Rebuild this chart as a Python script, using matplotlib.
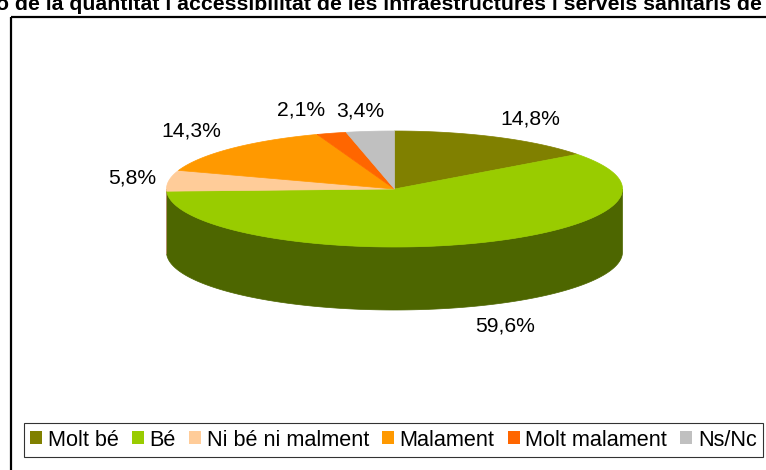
import numpy as np
import matplotlib
matplotlib.use("Agg")
import matplotlib.pyplot as plt
from matplotlib.patches import Polygon, Patch

# ---- data ----
categories = ["Molt bé", "Bé", "Ni bé ni malment", "Malament", "Molt malament", "Ns/Nc"]
values = [14.8, 59.6, 5.8, 14.3, 2.1, 3.4]
labels = ["14,8%", "59,6%", "5,8%", "14,3%", "2,1%", "3,4%"]
title = "ó de la quantitat i accessibilitat de les infraestructures i serveis sanitaris de"

# ---- style ----
top_colors = ["#808000", "#99CC00", "#FFCC99", "#FF9900", "#FF6600", "#C0C0C0"]
side_colors = ["#4D4D00", "#4D6600", "#B38F6B", "#B36B00", "#B34700", "#868686"]
label_nudge = [(5, 0), (14, 0), (20, 0), (5, -3), (-15, -3), (-4, 0)]

plt.rcParams['font.family'] = ['Liberation Sans', 'DejaVu Sans']

W, H = 766, 470
fig = plt.figure(figsize=(W / 100, H / 100), dpi=100)
ax = fig.add_axes([0, 0, 1, 1])
ax.set_xlim(0, W)
ax.set_ylim(H, 0)
ax.axis("off")

# frame
ax.plot([11, 11], [17, H + 5], color="black", lw=1.6, solid_capstyle="butt")
ax.plot([11, W + 5], [17, 17], color="black", lw=1.6, solid_capstyle="butt")

# title (cut at top like reference)
ax.text(-4, 10, title, fontsize=15.3, fontweight="bold", ha="left", va="baseline")

# pie geometry
cx, cy, rx, ry, depth = 394.5, 189.0, 228.0, 58.0, 63.0

def pt(theta_deg, dz=0.0, k=1.0):
    t = np.radians(theta_deg)
    return cx + k * rx * np.sin(t), cy - k * ry * np.cos(t) + dz

total = sum(values)
bounds = np.concatenate([[0], np.cumsum(values)]) / total * 360.0

# side walls (front half only)
for i in range(len(values)):
    a0, a1 = max(bounds[i], 90), min(bounds[i + 1], 270)
    if a1 <= a0:
        continue
    th = np.linspace(a0, a1, 200)
    xs, ys = pt(th)
    poly = np.column_stack([np.concatenate([xs, xs[::-1]]),
                            np.concatenate([ys, (ys + depth)[::-1]])])
    ax.add_patch(Polygon(poly, closed=True, facecolor=side_colors[i],
                         edgecolor=side_colors[i], lw=0.5))

# top surface
for i in range(len(values)):
    th = np.linspace(bounds[i], bounds[i + 1], 300)
    xs, ys = pt(th)
    poly = np.column_stack([np.concatenate([[cx], xs]), np.concatenate([[cy], ys])])
    ax.add_patch(Polygon(poly, closed=True, facecolor=top_colors[i],
                         edgecolor=top_colors[i], lw=0.5))

# labels
fs = 15.2
for i, lab in enumerate(labels):
    mid = (bounds[i] + bounds[i + 1]) / 2
    s, c = np.sin(np.radians(mid)), np.cos(np.radians(mid))
    dz = depth if c < 0 else 0
    x, y = pt(mid, dz=dz, k=1.15)
    w = 0.5 * len(lab) * 0.6 * 14 * 100 / 72
    x += w * s + label_nudge[i][0]
    y += -12 * c + label_nudge[i][1]
    ax.text(x, y, lab, fontsize=fs, ha="center", va="center")

# legend
handles = [Patch(facecolor=col, edgecolor="none") for col in top_colors]
leg = fig.legend(handles, categories, loc="center", ncol=6,
                 bbox_to_anchor=(393.5 / W, 1 - 440 / H),
                 fontsize=15.6, frameon=True, fancybox=False, edgecolor="black",
                 handlelength=0.55, handleheight=0.55, handletextpad=0.25,
                 columnspacing=0.62, borderpad=0.3, borderaxespad=0)
leg.get_frame().set_linewidth(0.8)

fig.savefig("out.png", dpi=100)
